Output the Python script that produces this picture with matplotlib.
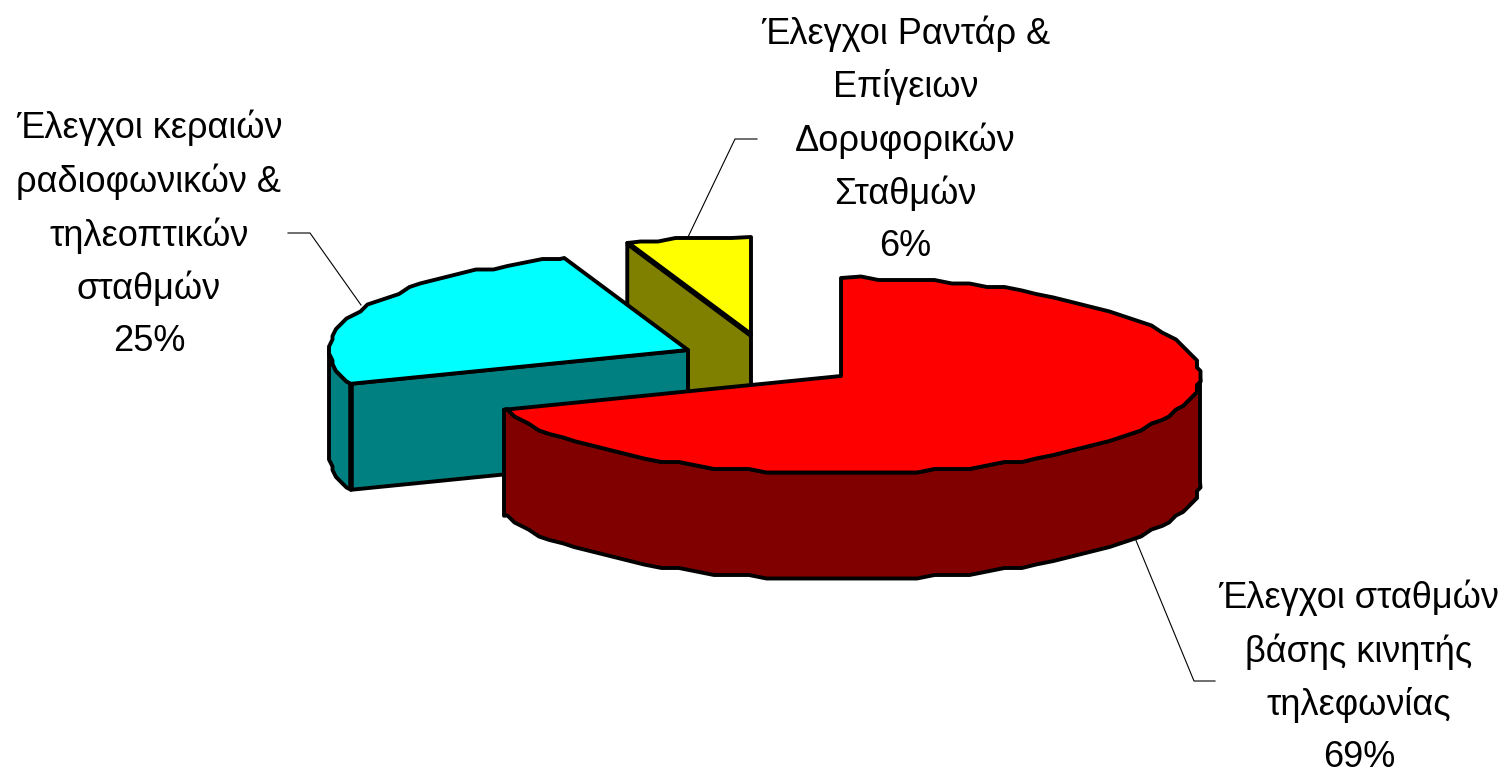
import numpy as np
import matplotlib
matplotlib.use('Agg')
import matplotlib.pyplot as plt
from matplotlib.patches import Polygon

plt.rcParams['font.family'] = ['Liberation Sans', 'DejaVu Sans']

# slice data, clockwise from 12 o'clock
labels = ['Έλεγχοι σταθμών\nβάσης κινητής\nτηλεφωνίας',
          'Έλεγχοι κεραιών\nραδιοφωνικών &\nτηλεοπτικών\nσταθμών',
          'Έλεγχοι Ραντάρ &\nΕπίγειων\nΔορυφορικών\nΣταθμών']
shares = [69.4, 25.0, 5.6]

top_colors = ['#ff0000', '#00ffff', '#ffff00']
side_colors = ['#800000', '#008080', '#808000']

# apex of each slice in pixels (exploded ones are moved away)
apex_x = [841, 688, 751]
apex_y = [376, 350, 335]
label_x = [1359, 149, 905.5]
label_y = [597, 127, 33]

rx = 359
ry = 98
depth = 106
grid = 3.5  # the original was a low-res metafile blown up, rim is stepped
step = 3.0  # degrees between rim points

fig = plt.figure(figsize=(15.07, 7.73), dpi=100)
ax = fig.add_axes([0, 0, 1, 1])
ax.set_xlim(0, 1507)
ax.set_ylim(773, 0)
ax.axis('off')


def rim(cx, cy, a0, a1):
    # rim points on a fixed angle grid so top edge and wall edge line up
    inner = np.arange(np.ceil(a0 / step + 0.01) * step, a1 - 0.01, step)
    x = np.round((cx + rx * np.sin(np.deg2rad(inner))) / grid) * grid
    y = np.round((cy - ry * np.cos(np.deg2rad(inner))) / grid) * grid
    t = np.deg2rad([a0, a1])
    first = [cx + rx * np.sin(t[0]), cy - ry * np.cos(t[0])]
    last = [cx + rx * np.sin(t[1]), cy - ry * np.cos(t[1])]
    return np.vstack([first, np.column_stack([x, y]), last])


def poly(pts, color, z):
    ax.add_patch(Polygon(pts, closed=True, facecolor=color, edgecolor='black',
                         linewidth=2.8, joinstyle='round', zorder=z))


ends = np.cumsum(shares) * 3.6
starts = ends - np.array(shares) * 3.6
down = np.array([0, depth])

# yellow slice first, it sits at the back
c = np.array([apex_x[2], apex_y[2]])
edge = rim(c[0], c[1], starts[2], ends[2])
poly([edge[0], c, c + down, edge[0] + down], side_colors[2], 1)
poly(np.vstack([c, edge]), top_colors[2], 2)
ax.plot([edge[0][0], c[0]], [edge[0][1], c[1]], color='black', lw=4,
        solid_capstyle='butt', zorder=2.5)

# cyan slice, cut face and the little bit of outer wall
c = np.array([apex_x[1], apex_y[1]])
edge = rim(c[0], c[1], starts[1], ends[1])
wall = rim(c[0], c[1], starts[1], 270)
poly(np.vstack([wall, wall[::-1] + down]), side_colors[1], 3)
poly([edge[0], c, c + down, edge[0] + down], side_colors[1], 3)
poly(np.vstack([c, edge]), top_colors[1], 4)
ax.plot([edge[0][0], edge[0][0]], [edge[0][1], edge[0][1] + depth],
        color='black', lw=4, solid_capstyle='butt', zorder=4.5)

# red slice in front
c = np.array([apex_x[0], apex_y[0]])
edge = rim(c[0], c[1], starts[0], ends[0])
wall = rim(c[0], c[1], 90, ends[0])
poly(np.vstack([wall, wall[::-1] + down]), side_colors[0], 5)
poly(np.vstack([c, edge]), top_colors[0], 6)

# leader lines
ax.plot([1215, 1194, 1135], [681, 681, 538], color='black', lw=0.8, zorder=0)
ax.plot([288, 310, 361], [233, 233, 305], color='black', lw=0.8, zorder=0)
ax.plot([757, 735, 688], [139, 139, 237], color='black', lw=0.8, zorder=0)

for i in range(3):
    txt = labels[i] + '\n' + f'{shares[i]:.0f}%'
    ax.text(label_x[i], label_y[i] - 18, txt, fontsize=26, ha='center', va='top',
            multialignment='center', linespacing=1.625, color='black')

fig.savefig('out.png', dpi=100)
